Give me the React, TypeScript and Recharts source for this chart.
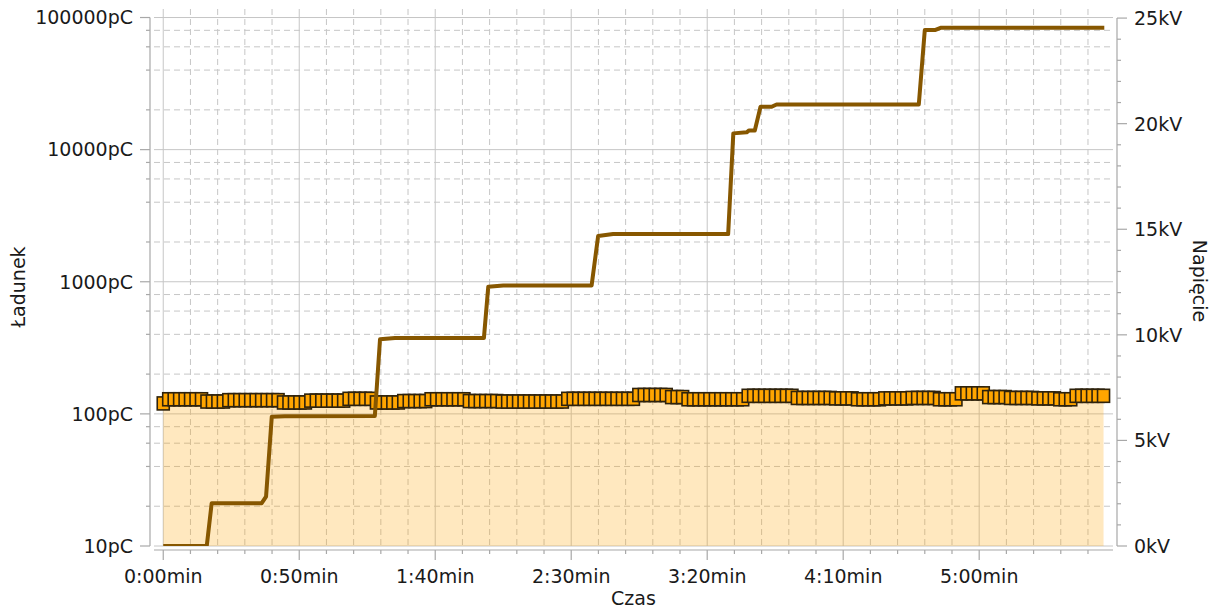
import { ComposedChart, Area, Line, Scatter, XAxis, YAxis, CartesianGrid } from 'recharts';

// charge readings (pC), one box every ~2 s
const chargePc = [
  120, 129, 129, 129, 129, 129, 129, 129,
  124, 124, 124, 124,
  127, 127, 127, 127, 127, 127, 127, 127, 127, 127,
  122, 122, 122, 122, 122,
  126, 126, 126, 126, 126, 126, 126,
  130, 130, 130, 130, 130,
  122, 122, 122, 122, 122,
  125, 125, 125, 125, 125,
  129, 129, 129, 129, 129, 129, 129,
  125, 125, 125, 125, 125, 125,
  124, 124, 124, 124, 124, 124, 124, 124, 124, 124, 124, 124,
  130, 130, 130, 130, 130, 130, 130, 130, 130, 130, 130, 130, 130,
  139, 139, 139, 139, 139, 139,
  134, 134, 134,
  129, 129, 129, 129, 129, 129, 129, 129, 129, 129, 129,
  137, 137, 137, 137, 137, 137, 137, 137, 137,
  132, 132, 132, 132, 132, 132, 132,
  131, 131, 131, 131,
  129, 129, 129, 129, 129,
  131, 131, 131, 131, 131,
  132, 132, 132, 132, 132,
  129, 129, 129, 129,
  143, 143, 143, 143, 143,
  134, 134, 134, 134,
  132, 132, 132, 132, 132,
  131, 131, 131, 131,
  129, 129, 129,
  137, 137, 137, 137, 137, 137,
];
const SAMPLE_STEP = 2.01;

// voltage ramp (seconds, kV)
const voltageTimes = [
  0, 16.0, 17.8, 36.2, 37.8, 39.9, 44.7, 77.8, 79.7, 85.2, 117.9, 119.5, 125.0, 157.5,
  159.9, 165.4, 207.7, 209.6, 214.5, 215.4, 217.5, 219.6, 223.7, 225.5, 277.8, 280.0,
  283.7, 285.8, 346.0,
];
const voltageKv = [
  0, 0, 2.02, 2.03, 2.34, 6.12, 6.15, 6.16, 9.79, 9.85, 9.85, 12.28, 12.34, 12.34,
  14.68, 14.77, 14.77, 19.54, 19.59, 19.68, 19.68, 20.8, 20.8, 20.91, 20.91, 24.43,
  24.43, 24.54, 24.54,
];

const timeMajor = [0, 50, 100, 150, 200, 250, 300];
const timeLabels = ['0:00min', '0:50min', '1:40min', '2:30min', '3:20min', '4:10min', '5:00min'];
const timeMinor = [10, 20, 30, 40, 60, 70, 80, 90, 110, 120, 130, 140, 160, 170, 180, 190, 210, 220, 230, 240, 260, 270, 280, 290, 310, 320, 330, 340];

const chargeMajor = [10, 100, 1000, 10000, 100000];
const chargeMinor = [20, 40, 60, 80, 200, 400, 600, 800, 2000, 4000, 6000, 8000, 20000, 40000, 60000, 80000];

const voltMajor = [0, 5, 10, 15, 20, 25];
const voltMinor = [1, 2, 3, 4, 6, 7, 8, 9, 11, 12, 13, 14, 16, 17, 18, 19, 21, 22, 23, 24];

const chargeData = chargePc.map((pc, i) => ({ t: i * SAMPLE_STEP, pc }));
const voltageData = voltageTimes.map((t, i) => ({ t, kv: voltageKv[i] }));

const FONT = '"DejaVu Sans", Verdana, sans-serif';
const TEXT = '#1a1a1a';
const AXIS = '#a8a8a8';
const GRID = '#c6c6c6';

const byValue = (a: number, b: number) => a - b;

const LeftTick = (props: any) => {
  const { x, y, payload } = props;
  const major = chargeMajor.includes(payload.value);
  return (
    <g>
      <line x1={x - 4} x2={x - (major ? 14 : 8)} y1={y} y2={y} stroke={AXIS} strokeWidth={1.2} />
      {major && (
        <text x={x - 21} y={y} dy="0.36em" textAnchor="end" fontFamily={FONT} fontSize={19} fill={TEXT}>
          {payload.value}pC
        </text>
      )}
    </g>
  );
};

const RightTick = (props: any) => {
  const { x, y, payload } = props;
  const major = voltMajor.includes(payload.value);
  return (
    <g>
      <line x1={x + 4} x2={x + (major ? 14 : 8)} y1={y} y2={y} stroke={AXIS} strokeWidth={1.2} />
      {major && (
        <text x={x + 21} y={y} dy="0.36em" textAnchor="start" fontFamily={FONT} fontSize={19} fill={TEXT}>
          {payload.value}kV
        </text>
      )}
    </g>
  );
};

const BottomTick = (props: any) => {
  const { x, y, payload } = props;
  const idx = timeMajor.indexOf(payload.value);
  const major = idx >= 0;
  return (
    <g>
      <line x1={x} x2={x} y1={y + 4} y2={y + (major ? 14 : 8)} stroke={AXIS} strokeWidth={1.2} />
      {major && (
        <text x={x} y={y + 37} textAnchor="middle" fontFamily={FONT} fontSize={19} fill={TEXT}>
          {timeLabels[idx]}
        </text>
      )}
    </g>
  );
};

const ChargeBox = (props: any) => {
  const { cx, cy } = props;
  return (
    <rect x={cx - 6} y={cy - 6.5} width={12} height={13} fill="#FFA500" stroke="#2e220c" strokeWidth={1.6} />
  );
};

const App = () => {
  return (
    <div style={{ position: 'absolute', left: 0, top: 0, background: '#fff' }}>
      <ComposedChart width={1218} height={611} margin={{ top: 9, right: 0, bottom: 0, left: 0 }}>
        <CartesianGrid
          yAxisId="q"
          horizontalValues={chargeMinor}
          verticalValues={timeMinor}
          stroke={GRID}
          strokeDasharray="6 4"
        />
        <CartesianGrid yAxisId="q" horizontalValues={chargeMajor} verticalValues={timeMajor} stroke={GRID} />
        <XAxis
          type="number"
          dataKey="t"
          domain={[-3.4, 349.2]}
          allowDataOverflow
          ticks={[...timeMajor, ...timeMinor].sort(byValue)}
          interval={0}
          tick={<BottomTick />}
          tickLine={false}
          tickSize={0}
          tickMargin={0}
          height={65}
          axisLine={{ stroke: AXIS, strokeWidth: 1.2, transform: 'translate(0,4)' }}
          label={{
            content: () => (
              <text x={633.5} y={605} textAnchor="middle" fontFamily={FONT} fontSize={19} fill={TEXT}>
                Czas
              </text>
            ),
          }}
        />
        <YAxis
          yAxisId="q"
          scale="log"
          domain={[10, 116000]}
          allowDataOverflow
          ticks={[...chargeMajor, ...chargeMinor].sort(byValue)}
          interval={0}
          tick={<LeftTick />}
          tickLine={false}
          tickSize={0}
          tickMargin={0}
          width={154}
          axisLine={{ stroke: AXIS, strokeWidth: 1.2, transform: 'translate(-4,0)', strokeDasharray: '0 8.5 2000' }}
          label={{
            content: () => (
              <text
                transform="translate(18,287) rotate(-90)"
                textAnchor="middle"
                dy="0.36em"
                fontFamily={FONT}
                fontSize={19}
                fill={TEXT}
              >
                Ładunek
              </text>
            ),
          }}
        />
        <YAxis
          yAxisId="v"
          orientation="right"
          domain={[0, 25.43]}
          allowDataOverflow
          ticks={[...voltMajor, ...voltMinor].sort(byValue)}
          interval={0}
          tick={<RightTick />}
          tickLine={false}
          tickSize={0}
          tickMargin={0}
          width={105}
          axisLine={{ stroke: AXIS, strokeWidth: 1.2, transform: 'translate(4,0)', strokeDasharray: '0 9 2000' }}
          label={{
            content: () => (
              <text
                transform="translate(1200,281) rotate(90)"
                textAnchor="middle"
                dy="0.36em"
                fontFamily={FONT}
                fontSize={19}
                fill={TEXT}
              >
                Napięcie
              </text>
            ),
          }}
        />
        <Area
          yAxisId="q"
          data={chargeData}
          dataKey="pc"
          type="stepAfter"
          baseValue={10}
          stroke="none"
          fill="#FFA500"
          fillOpacity={0.25}
          isAnimationActive={false}
        />
        <Scatter yAxisId="q" data={chargeData} dataKey="pc" shape={<ChargeBox />} isAnimationActive={false} />
        <Line
          yAxisId="v"
          data={voltageData}
          dataKey="kv"
          type="linear"
          stroke="#875700"
          strokeWidth={4}
          strokeLinejoin="round"
          dot={false}
          activeDot={false}
          isAnimationActive={false}
          zIndex={700}
        />
      </ComposedChart>
    </div>
  );
};

export default App;
